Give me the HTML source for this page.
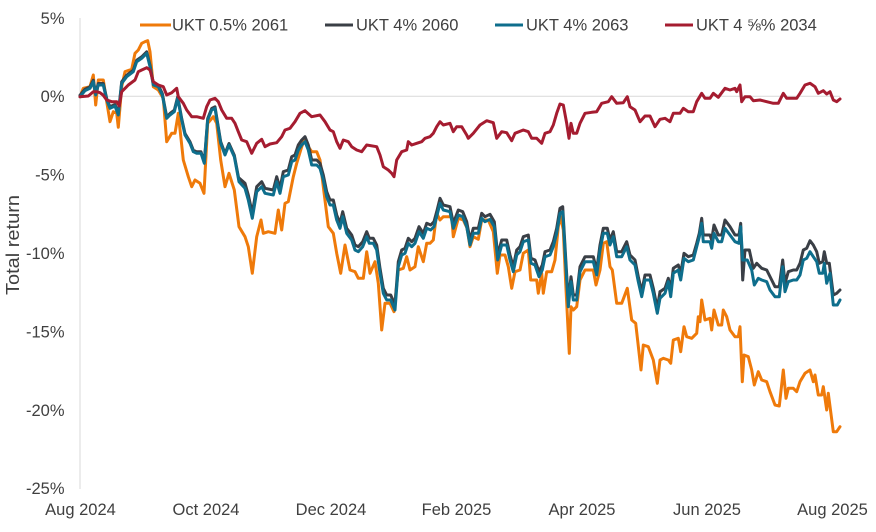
<!DOCTYPE html>
<html>
<head>
<meta charset="utf-8">
<style>
html,body{margin:0;padding:0;background:#fff;}
svg{display:block;}
text{font-family:"Liberation Sans",Arial,sans-serif;fill:#404040;}
</style>
</head>
<body>
<svg width="876" height="532" viewBox="0 0 876 532" xmlns="http://www.w3.org/2000/svg">
<rect width="876" height="532" fill="#fff"/>
<!-- axes -->
<line x1="80" y1="18" x2="80" y2="489" stroke="#d9d9d9" stroke-width="1"/>
<line x1="80" y1="96.3" x2="840" y2="96.3" stroke="#d9d9d9" stroke-width="1"/>
<!-- y tick labels -->
<g font-size="16.5" text-anchor="end">
<text x="64.5" y="23.8">5%</text>
<text x="64.5" y="102.2">0%</text>
<text x="64.5" y="180.6">-5%</text>
<text x="64.5" y="259">-10%</text>
<text x="64.5" y="337.4">-15%</text>
<text x="64.5" y="415.8">-20%</text>
<text x="64.5" y="494.2">-25%</text>
</g>
<text transform="translate(19,245) rotate(-90)" font-size="18.5" text-anchor="middle" textLength="100" lengthAdjust="spacingAndGlyphs">Total return</text>
<!-- x labels -->
<g font-size="16.5" text-anchor="middle">
<text x="80.5" y="515">Aug 2024</text>
<text x="206" y="515">Oct 2024</text>
<text x="331" y="515">Dec 2024</text>
<text x="456.5" y="515">Feb 2025</text>
<text x="582" y="515">Apr 2025</text>
<text x="707" y="515">Jun 2025</text>
<text x="832.5" y="515">Aug 2025</text>
</g>
<!-- legend -->
<g stroke-width="3">
<line x1="140" y1="25" x2="171" y2="25" stroke="#EF7A0A"/>
<line x1="325" y1="25" x2="353" y2="25" stroke="#3A3F46"/>
<line x1="495" y1="25" x2="523" y2="25" stroke="#0E6E8C"/>
<line x1="665" y1="25" x2="693" y2="25" stroke="#A51C30"/>
</g>
<g font-size="16.5">
<text x="172" y="30.5">UKT 0.5% 2061</text>
<text x="356" y="30.5">UKT 4% 2060</text>
<text x="526" y="30.5">UKT 4% 2063</text>
<text x="696" y="30.5">UKT 4 ⅝% 2034</text>
</g>
<g fill="none" stroke-width="3" stroke-linejoin="round" stroke-linecap="round">
<!-- orange -->
<polyline stroke="#EF7A0A" points="80,96.7 83.3,88.3 90,86.7 93.3,75 95.7,105 98.3,80 103.3,80 106.7,101.7 110,121.7 113.3,111.7 116.7,113.3 118.3,127.3 121.7,86.7 125,71.7 131.7,69.3 135,53.3 138.3,50 141.7,43.3 145,41.7 147.7,40.7 150,51.7 153.3,86.7 158.3,90 163.3,98.3 166.7,141.7 171.7,133.3 175,133.3 178.3,113.3 183.3,160 188.3,176.7 191.7,186.7 195,180 200,183.3 204,193.3 207.7,123.3 213.3,116.7 216.7,123.3 220.7,160 225,186.7 229,173.3 234.3,190 239,226.7 245,236.7 248.3,246.7 252.3,273.3 256.7,236.7 261,220 263.3,233.3 268.3,231.7 275,233.3 278.3,210 281.7,230 285,203.3 288.3,201.7 293.3,176.7 296.7,163.3 301.7,146.7 305,138.3 308.3,146.7 311.7,151.7 316.7,151.7 320,160 323.3,186.7 328.3,226.7 333.3,233.3 336.7,253.3 340.7,273.3 345,245 350,270 355,271.7 358.3,278.3 363.3,278.3 366.7,251.7 370,273.3 375,261.7 378.3,283.3 381.7,330 385,303.3 390,303.3 394,311.7 398.3,270 403.3,268.3 406.7,256.7 410,270 415,266.7 418.3,246.7 423.3,261.7 426.7,243.3 430,243.3 433.3,240 436.7,213.3 440,220 443.3,216.7 451.7,216.7 453.3,236.7 458.3,218.3 463.3,220 467,228 470,246.7 473.3,236.7 478.3,239.3 481.7,220 488.3,220 493.3,231.7 497.3,273.3 500,255 505,255 508.3,266.7 511.7,288.3 515,271.7 520,270 523.3,253.3 528.3,250 530.7,280 536.7,280 538.3,293.3 541.7,273.3 543.3,293.3 546.7,271.7 551.7,271.7 555,260 558.3,226.7 560.7,216.7 563.3,230 565.7,283.3 569.3,353.3 571,306.7 573.3,310 576.7,306.7 580,280 585,270 593.3,270 596,285 600,270 603.3,243.3 606.7,241.7 610,266.7 612.3,270 616.7,303.3 621.7,303.3 627.3,288.3 631.7,320 635.7,323.3 641,370 643.3,345 648.3,346.7 653.3,360 657.3,383.3 660,360 663.3,358.3 668.3,360 670.7,363.3 673.3,340 678.3,338.3 680.7,351.7 684,326.7 686.7,336.7 691.7,338.3 696.7,333.3 698.3,316.7 700,321.7 701.7,300 705,320 710,318.3 711.7,330 714,310 718.3,325 721.7,325 723.3,310 726.7,316.7 730,330 735,336.7 738.3,336.7 740,326.7 742.3,381.7 744,355 748.3,356.7 751.7,370 754.3,385 758.3,371.7 761.7,380 766.7,381.7 770,391.7 775,405 779.3,406 783.3,370 786,398.3 788.3,388.3 793.3,388.3 796.7,391.7 800,381.7 805,373.3 810,370 813.3,381.7 815,375 818.3,395 821.7,395 823.3,386.7 826.7,410 828.3,393.3 833.3,431.7 836.7,431.7 840,426.7"/>
<!-- dark (4% 2060) -->
<polyline stroke="#3A3F46" transform="translate(0,-1.5)" points="80,96.7 85,90.7 90,88.3 93.3,81.7 95.7,95 98.3,85 103.3,85 106.7,100 110,108.3 115,106 118.3,115 121.7,83.3 126.7,76.7 133.3,71.7 136.7,61.7 141.7,58.3 146.7,53.3 150,66.7 153.3,85 158.3,86.7 162.3,95 166.7,118.3 170,115 174.3,111.7 177.7,98.3 181.7,120 185,135 190,143.3 193.3,151.7 196.7,153.3 201,153.3 204.3,163.3 207.7,120 211.7,110 215,108.3 220.7,143.3 225,155 229,145 234.3,156.7 239,181.7 245,188.3"/>
<polyline stroke="#3A3F46" transform="translate(0,-5)" points="239,183 245,188.3 248.3,200 252.3,218.3 256.7,191.7 261.7,186.7 265,193.3 273.3,195 276.7,181.7 280,193.3 283.3,176.7 288.3,175 291.7,161.7 295,160 298.3,150 301.7,145 305,141.7 308.3,150 311.7,165 316.7,165 320,168.3 323.3,180 326.7,196.7 330,205 333.3,205 336.7,220 340,228.3 342.7,216.7 346.7,233.3 351.7,240 355,250 358.3,251.7 362.7,246.7 366.7,236.7 369.3,243.3 373.3,243.3 376.7,250 380,273.3 383.3,293.3 386.7,300 390.7,300 395,310 398.3,266.7 401.7,255 405,253.3 408.3,243.3 411.7,246.7 415,243.3 419,231.7 423.3,238.3 426.7,228.3 430.7,230 434,226.7 436.7,216.7 440,203.3 443.3,210 450,211.7 453.3,228.3 458.3,215 462.7,216.7 466.7,226.7 470,245 473.3,233.3 478.3,233.3 481.7,218.3 485,221.7 490,219.3 494.3,226.7 497.7,260 501.7,245 506.7,245 510,260 513.3,271.7 516.7,255 520,251.7 523.3,241.7 528.3,240 531,263.3 535,265 539,276.7 542.3,270 545,256.7 550,255 553.3,246.7 556.7,233.3 560,213.3 562.7,211.7 565.7,263.3 568.3,306.7 571,281.7 573.3,300 576.7,300 580,271.7 585,261.7 593.3,261.7 596.7,275 600,250 603.3,233.3 607.3,233.3 610,245 613.3,236.7 616.7,256.7 621.7,256.7 626.7,246.7 630,260 635,265 638.3,281.7 641.7,296.7 645,280 650,280 653.3,293.3 657.3,313.3 660,296.7"/>
<polyline stroke="#3A3F46" points="660,291.7 665,288.3 668.3,278.3 670.7,290 673.3,268.3 678.3,265 680.7,273.3 684,253.3 688.3,256.7 693.3,255 696.7,243.3 699.3,233.3 701.7,218.3 703.3,235 710,235 711.7,240 714,225 718.3,235 721.7,235 725,220 730,226.7 735,235 739,235 740.7,223.3 742.7,280 745,250 749.3,250 753.3,268.3 756.7,263.3 761.7,268.3 766.7,270 771.7,280 775,286.7 779.3,286.7 782.7,260 785,283.3 788.3,271.7 793.3,270 796.7,270 800,263.3 803.3,250 806.7,248.3 810,240.7 813.3,245 816.7,251.7 819.3,263.3 822.7,261.7 824.3,251.7 826.7,263.3 829.3,263.3 833.3,295 836.7,293.3 840,290"/>
<!-- teal (4% 2063) -->
<polyline stroke="#0E6E8C" points="80,96.7 85,90.7 90,88.3 93.3,81.7 95.7,95 98.3,85 103.3,85 106.7,100 110,108.3 115,106 118.3,115 121.7,83.3 126.7,76.7 133.3,71.7 136.7,61.7 141.7,58.3 146.7,53.3 150,66.7 153.3,85 158.3,86.7 162.3,95 166.7,118.3 170,115 174.3,111.7 177.7,98.3 181.7,120 185,135 190,143.3 193.3,151.7 196.7,153.3 201,153.3 204.3,163.3 207.7,120 211.7,110 215,108.3 220.7,143.3 225,155 229,145 234.3,156.7 239,181.7 245,188.3 248.3,200 252.3,218.3 256.7,191.7 261.7,186.7 265,193.3 273.3,195 276.7,181.7 280,193.3 283.3,176.7 288.3,175 291.7,161.7 295,160 298.3,150 301.7,145 305,141.7 308.3,150 311.7,165 316.7,165 320,168.3 323.3,180 326.7,196.7 330,205 333.3,205 336.7,220 340,228.3 342.7,216.7 346.7,233.3 351.7,240 355,250 358.3,251.7 362.7,246.7 366.7,236.7 369.3,243.3 373.3,243.3 376.7,250 380,273.3 383.3,293.3 386.7,300 390.7,300 395,310 398.3,266.7 401.7,255 405,253.3 408.3,243.3 411.7,246.7 415,243.3 419,231.7 423.3,238.3 426.7,228.3 430.7,230 434,226.7 436.7,216.7 440,203.3 443.3,210 450,211.7 453.3,228.3 458.3,215 462.7,216.7 466.7,226.7 470,245 473.3,233.3 478.3,233.3 481.7,218.3 485,221.7 490,219.3 494.3,226.7 497.7,260 501.7,245 506.7,245 510,260 513.3,271.7 516.7,255 520,251.7 523.3,241.7 528.3,240 531,263.3 535,265 539,276.7 542.3,270 545,256.7 550,255 553.3,246.7 556.7,233.3 560,213.3 562.7,211.7 565.7,263.3 568.3,306.7 571,281.7 573.3,300 576.7,300 580,271.7 585,261.7 593.3,261.7 596.7,275 600,250 603.3,233.3 607.3,233.3 610,245 613.3,236.7 616.7,256.7 621.7,256.7 626.7,246.7 630,260 635,265 638.3,281.7 641.7,296.7 645,280 650,280 653.3,293.3 657.3,313.3 660,298.3 665,293.3 668.3,281.7 670.7,296.7 673.3,273.3 678.3,270 680.7,280 684,258.3 688.3,261.7 693.3,260 696.7,246.7 699.3,236.7 701.7,223.3 703.3,241.7 710,241.7 711.7,248.3 714,233.3 718.3,241.7 721.7,241.7 725,228.3 730,235 735,241.7 739,243.3 740.7,226.7 742.7,260 747.3,260 751.7,270 754.3,285 758.3,278.3 761.7,280 766.7,281.7 770,290 775,296.7 779.3,296.7 782.7,266.7 785,291.7 788.3,281.7 793.3,280 796.7,280 800,275 803.3,260 806.7,258.3 810,251.7 813.3,256.7 816.7,261.7 819.3,273.3 822.7,273.3 824.3,263.3 826.7,283.3 830,273.3 833.3,305 837.3,305 840,300"/>
<!-- red (4 5/8% 2034) -->
<polyline stroke="#A51C30" points="80,96.7 88.3,96 93.3,91.7 96.7,91.7 100,92.7 103,95 106.7,100 111.7,101.7 116.7,101.7 119.3,106 121.7,91.7 128.3,85 135,80 138.3,71.7 141.7,70 146.7,67.7 150,70 153.3,81.7 158.3,85 163.3,86.7 166.7,95 171.7,92.7 176.7,88.3 178.3,96.7 183.3,103.3 186.7,110 191.7,116.7 196.7,116.7 203.3,118.3 206.7,106.7 210,100 215,98.3 218.3,101.7 221.7,110 226.7,118.3 231.7,118.3 235,123.3 238.3,131.7 241.7,140 246.7,141.7 251.7,153.3 256.7,143.3 261.7,139.3 265,146.7 270,144 276.7,142.7 281.7,136.7 285,130 290,128.3 295,121.7 300,113.3 305,110.7 311.7,116.7 320,115 325,121.7 330,130 333.3,131.7 336.7,141.7 340,148.3 343.3,140 348.3,141.7 351.7,146.7 356.7,150 361.7,151.7 366.7,145 376.7,146.7 380,155 383.3,166.7 388.3,170 391.7,173.3 394,176.7 396.7,160 401.7,151.7 406.7,150 408.3,141.7 411.7,145 416.7,143.3 421.7,141.7 425,138.3 430,136.7 433.3,133.3 436.7,126.7 440,121.7 443.3,125 450,123.3 453.3,131.7 456.7,126.7 461.7,126.7 466.7,135 468.3,138.3 473.3,133.3 480,125 486.7,120.7 493.3,122.7 496.7,138.3 501.7,131.7 506.7,132.7 511.7,140.7 515,133.3 523.3,130 528.3,131.7 531.7,138.3 536.7,138.3 541.7,143.3 545,133.3 550,131.7 553.3,125 556.7,113.3 560,104 563.3,105 566.7,123.3 569,138.3 571,123.3 573.3,133.3 576.7,133.3 580,123.3 585,113.3 591.7,112.3 596.7,111.7 601.7,103.3 608.3,101.7 611.7,96.7 616.7,103.3 623.3,102.7 627.3,96.7 630,106.7 635,110 640,121.7 645,116 650,116 655,126.7 660,119.3 665,118.3 670,121.7 673.3,113.3 680,113.3 683.3,108.3 688.3,111.7 693.3,111.7 696.7,101.7 701.7,93.3 705,98.3 710,98.3 713.3,93.3 718.3,97.3 725,88.3 730,90 735,88.3 736.7,91.7 740,85 741.7,101.7 745,96.7 750,96.7 753.3,100.7 760,100 766.7,101.7 773.3,103.3 778.3,103.3 783.3,93.3 786.7,98.3 796.7,98.3 800,93.3 805,85 810,83.3 815,86.7 818.3,93.3 823.3,90.7 826.7,94 830,91.7 833.3,100 836.7,101.7 840,99"/>
</g>
</svg>
</body>
</html>
